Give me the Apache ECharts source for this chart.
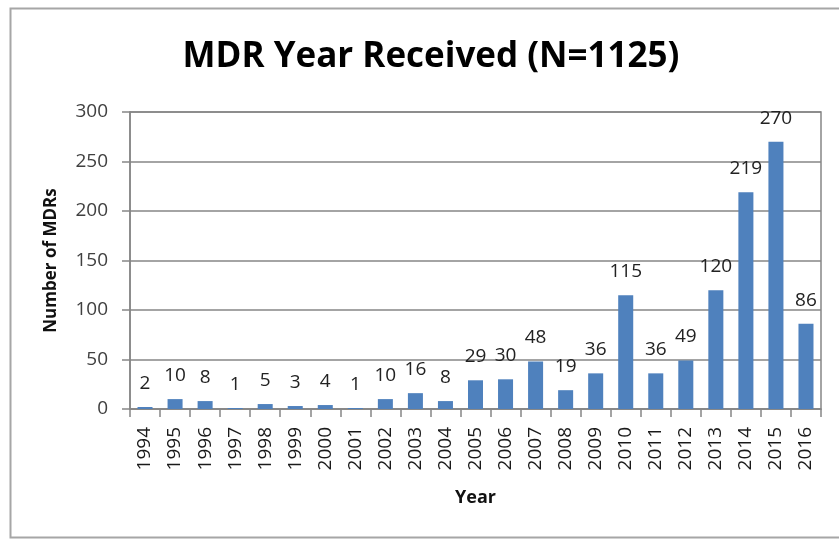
<!DOCTYPE html>
<html><head><meta charset="utf-8">
<script src="https://cdn.jsdelivr.net/npm/echarts@6/dist/echarts.min.js"></script>
<style>html,body{margin:0;padding:0;background:#fff}#c{width:839px;height:540px}</style>
</head><body><div id="c"></div>
<script>
const years = ['1994','1995','1996','1997','1998','1999','2000','2001','2002','2003','2004','2005','2006','2007','2008','2009','2010','2011','2012','2013','2014','2015','2016'];
const counts = [2,10,8,1,5,3,4,1,10,16,8,29,30,48,19,36,115,36,49,120,219,270,86];
const yTicks = [0,50,100,150,200,250,300];
const titleText = 'MDR Year Received (N=1125)';
const xName = 'Year';
const yName = 'Number of MDRs';

const FONT = '"Open Sans", sans-serif';
const gridGray = '#868686';
const chart = echarts.init(document.getElementById('c'));
chart.setOption({
  backgroundColor: '#fff',
  animation: false,
  textStyle: { fontFamily: FONT },
  graphic: [{
    type: 'rect', left: 8, top: 6, shape: { width: 840, height: 529 },
    style: { fill: 'none', stroke: '#a6a6a6', lineWidth: 2 }, silent: true
  }],
  title: {
    text: titleText, left: 426, textAlign: 'center', top: 35,
    textStyle: { fontFamily: FONT, fontSize: 35, fontWeight: 'bold', color: '#000' }
  },
  grid: { left: 130, right: 18, top: 112, bottom: 131, show: true, borderColor: gridGray, borderWidth: 1.5 },
  xAxis: {
    type: 'category', data: years,
    name: xName, nameLocation: 'middle', nameGap: 80,
    nameTextStyle: { fontFamily: FONT, fontSize: 18, fontWeight: 'bold', color: '#111' },
    axisLine: { lineStyle: { color: gridGray, width: 1.5 } },
    axisTick: { show: true, length: 8, lineStyle: { color: gridGray, width: 1.5 } },
    axisLabel: { rotate: 90, margin: 18, fontSize: 19, color: '#1a1a1a', fontFamily: FONT, interval: 0 }
  },
  yAxis: {
    type: 'value', min: yTicks[0], max: yTicks[yTicks.length - 1], interval: 50,
    name: yName, nameLocation: 'middle', nameGap: 70, nameRotate: 90,
    nameTextStyle: { fontFamily: FONT, fontSize: 17, fontWeight: 'bold', color: '#111' },
    axisLine: { show: true, lineStyle: { color: gridGray, width: 1.5 } },
    axisTick: { show: true, length: 8, lineStyle: { color: gridGray, width: 1.5 } },
    axisLabel: { margin: 22, fontSize: 19, color: '#404040', fontFamily: FONT },
    splitLine: { lineStyle: { color: gridGray, width: 1.5 } }
  },
  series: [{
    type: 'bar', data: counts, barWidth: '50%',
    itemStyle: { color: '#4f81bd' },
    label: { show: true, position: 'top', distance: 14, fontSize: 19, color: '#222', fontFamily: FONT }
  }]
});
</script></body></html>
